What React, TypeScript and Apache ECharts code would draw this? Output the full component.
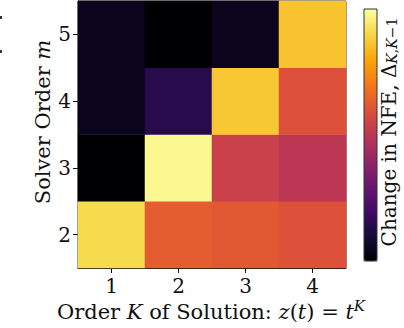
import React, { useEffect, useRef } from "react";
import * as echarts from "echarts";

const orderK = ["1", "2", "3", "4"];
const solverM = ["2", "3", "4", "5"];
// normalized change in NFE (colour scale position), rows = solver order m, cols = K
const deltaM2 = [0.91, 0.63, 0.62, 0.6];
const deltaM3 = [0.0, 0.98, 0.54, 0.5];
const deltaM4 = [0.045, 0.14, 0.87, 0.6];
const deltaM5 = [0.045, 0.0, 0.045, 0.86];
const infernoStops = [
  "#000004", "#160b39", "#420a68", "#6a176e", "#932667", "#bc3754",
  "#dd513a", "#f37819", "#fca50a", "#f6d746", "#fcffa4",
];

const SERIF = "'DejaVu Serif', 'Liberation Serif', serif";
const FS = 20;
const TS = 21;

export default function App() {
  const ref = useRef<HTMLDivElement>(null);
  useEffect(() => {
    if (!ref.current) return;
    const chart = echarts.init(ref.current, undefined, { renderer: "svg" });
    const rows = [deltaM2, deltaM3, deltaM4, deltaM5];
    const data: number[][] = [];
    rows.forEach((row, yi) => row.forEach((v, xi) => data.push([xi, yi, v])));
    chart.setOption({
      animation: false,
      backgroundColor: "#ffffff",
      grid: {
        left: 78, top: 1, width: 268, height: 267,
        show: true, borderColor: "#222", borderWidth: 1, backgroundColor: "transparent",
      },
      xAxis: {
        type: "category", data: orderK,
        axisLine: { show: true, lineStyle: { color: "#111", width: 1 } },
        axisTick: { show: true, alignWithLabel: true, length: 5, lineStyle: { color: "#111" } },
        axisLabel: { fontFamily: SERIF, fontSize: FS, color: "#111", margin: 8 },
        splitLine: { show: false },
      },
      yAxis: {
        type: "category", data: solverM,
        axisLine: { show: true, lineStyle: { color: "#111", width: 1 } },
        axisTick: { show: true, alignWithLabel: true, length: 5, lineStyle: { color: "#111" } },
        axisLabel: { fontFamily: SERIF, fontSize: FS, color: "#111", margin: 7 },
        splitLine: { show: false },
      },
      visualMap: {
        type: "continuous", min: 0, max: 1, calculable: false,
        orient: "vertical", left: 364, top: 9, itemWidth: 13, itemHeight: 252,
        padding: 0, text: ["", ""], showLabel: false, hoverLink: false,
        inRange: { color: infernoStops },
      },
      series: [{
        type: "heatmap", data,
        itemStyle: { borderWidth: 0 },
        emphasis: { disabled: true },
      }],
      graphic: [
        { type: "rect", shape: { x: 364, y: 9, width: 13, height: 252 },
          style: { fill: "none", stroke: "#333", lineWidth: 1 }, z: 100 },
        { type: "rect", shape: { x: 0, y: 16, width: 2, height: 3 }, style: { fill: "#333" } },
        { type: "rect", shape: { x: 0, y: 50, width: 2, height: 3 }, style: { fill: "#333" } },
        {
          type: "text", x: 211, y: 312,
          style: {
            text: "Order {i|K} of Solution: {i|z}({i|t}) = {i|t}{sup|K}",
            fontFamily: SERIF, fontSize: TS, fill: "#111",
            align: "center", verticalAlign: "middle",
            rich: {
              i: { fontFamily: SERIF, fontSize: TS, fontStyle: "italic", fill: "#111" },
              sup: { fontFamily: SERIF, fontSize: 15, fontStyle: "italic", fill: "#111", padding: [0, 0, 12, 0] },
            },
          },
        },
        {
          type: "text", x: 43, y: 122, rotation: Math.PI / 2,
          style: {
            text: "Solver Order {i|m}",
            fontFamily: SERIF, fontSize: TS, fill: "#111",
            align: "center", verticalAlign: "middle",
            rich: { i: { fontFamily: SERIF, fontSize: TS, fontStyle: "italic", fill: "#111" } },
          },
        },
        {
          type: "text", x: 389, y: 132, rotation: Math.PI / 2,
          style: {
            text: "Change in NFE, Δ{s|K}{n|,}{s|K}{n|−1}",
            fontFamily: SERIF, fontSize: FS, fill: "#111",
            align: "center", verticalAlign: "middle",
            rich: {
              s: { fontFamily: SERIF, fontSize: 14, fontStyle: "italic", fill: "#111", padding: [5, 0, 0, 0] },
              n: { fontFamily: SERIF, fontSize: 14, fill: "#111", padding: [5, 0, 0, 0] },
            },
          },
        },
      ],
    });
    return () => chart.dispose();
  }, []);
  return (
    <div
      ref={ref}
      style={{ position: "fixed", left: 0, top: 0, width: 404, height: 328 }}
    />
  );
}
